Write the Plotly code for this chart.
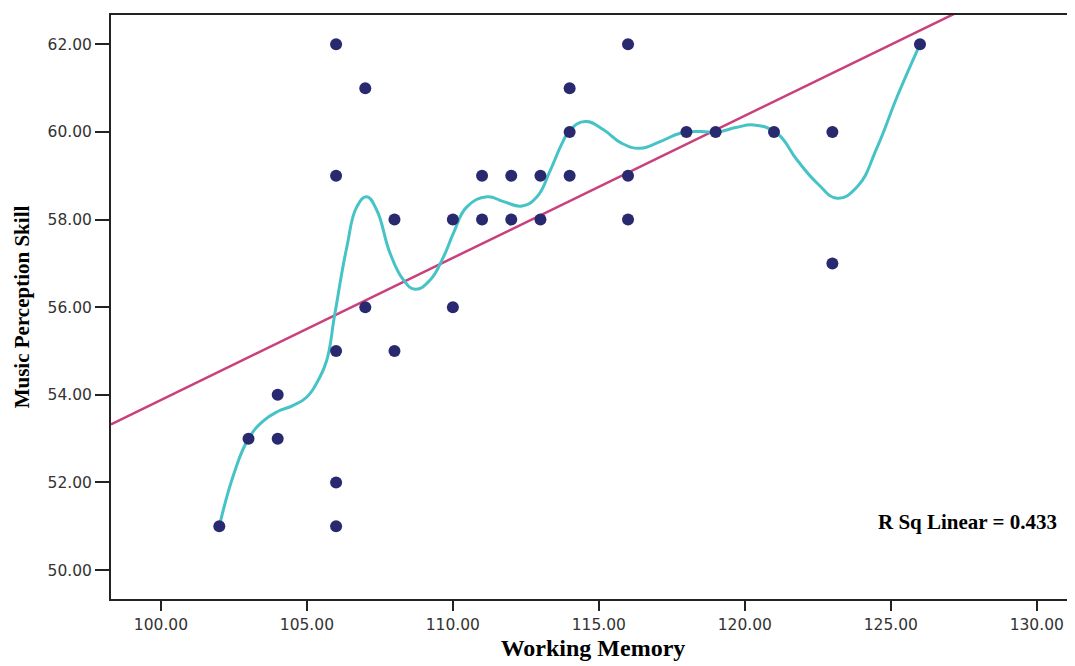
import numpy as np
import plotly.graph_objects as go

# Observed data (Working Memory vs Music Perception Skill)
working_memory = [102, 103, 104, 104, 106, 106, 106, 106, 106, 107, 107, 108, 108,
                  110, 110, 111, 111, 112, 112, 113, 113, 114, 114, 114,
                  116, 116, 116, 118, 119, 121, 123, 123, 126]
music_perception = [51, 53, 54, 53, 62, 59, 55, 52, 51, 61, 56, 58, 55,
                    58, 56, 59, 58, 59, 58, 59, 58, 61, 60, 59,
                    62, 59, 58, 60, 60, 60, 60, 57, 62]

# Loess fit curve
loess_x = [102.0, 102.5, 103.0, 103.5, 104.0, 104.5, 105.0, 105.4, 105.68, 105.96,
           106.37, 106.71, 107.05, 107.39, 107.85, 108.31, 108.71, 109.22, 109.68, 110.02,
           110.48, 111.17, 111.74, 112.37, 112.88, 113.34, 113.74, 114.02, 114.54, 115.16,
           115.79, 116.42, 117.1, 117.79, 118.48, 119.05, 119.7, 120.3, 121.1, 121.79,
           122.48, 123.16, 123.85, 124.54, 125.22, 126.0]
loess_y = [51.0, 52.2, 53.0, 53.4, 53.62, 53.75, 53.95, 54.35, 54.79, 55.86,
           57.38, 58.29, 58.52, 58.22, 57.23, 56.62, 56.41, 56.62, 57.15, 57.69,
           58.29, 58.52, 58.41, 58.31, 58.52, 59.13, 59.74, 60.05, 60.24, 60.05,
           59.74, 59.63, 59.78, 59.97, 60.01, 60.0, 60.1, 60.16, 59.97, 59.36,
           58.83, 58.49, 58.75, 59.66, 60.81, 62.0]

x_ticks = [100, 105, 110, 115, 120, 125, 130]
y_ticks = [50, 52, 54, 56, 58, 60, 62]
X_RANGE = [98.29, 131.31]
Y_RANGE = [49.34, 62.67]
r2_label = "R Sq Linear = 0.433"

slope, intercept = np.polyfit(working_memory, music_perception, 1)
fit_x = np.array(X_RANGE)
fit_y = slope * fit_x + intercept

fig = go.Figure()
fig.add_trace(go.Scatter(x=fit_x, y=fit_y, mode="lines",
                         line=dict(color="#C9407C", width=2.5), showlegend=False))
fig.add_trace(go.Scatter(x=loess_x, y=loess_y, mode="lines",
                         line=dict(color="#45C3C6", width=3, shape="spline", smoothing=1.3),
                         showlegend=False))
fig.add_trace(go.Scatter(x=working_memory, y=music_perception, mode="markers",
                         marker=dict(color="#28296F", size=12), showlegend=False))

tick_font = dict(family="DejaVu Sans", size=15.5, color="#333333")
title_font = dict(family="Liberation Serif", size=24, color="#000000")

# page body has an 8px margin; size the figure so it fills the 1075x666 window
fig.update_layout(
    width=1067, height=658,
    margin=dict(l=103, r=0, t=7, b=67),
    paper_bgcolor="white", plot_bgcolor="white",
    xaxis=dict(range=X_RANGE, tickvals=x_ticks, tickformat=".2f",
               showgrid=False, zeroline=False,
               showline=True, linecolor="#222222", linewidth=2, mirror=True,
               ticks="outside", ticklen=10, tickwidth=2, tickcolor="#222222",
               tickfont=tick_font,
               title=dict(text="<b>Working Memory</b>", font=title_font, standoff=7)),
    yaxis=dict(range=Y_RANGE, tickvals=y_ticks, tickformat=".2f",
               showgrid=False, zeroline=False,
               showline=True, linecolor="#222222", linewidth=2,
               ticks="outside", ticklen=14, tickwidth=2, tickcolor="#222222",
               tickfont=tick_font,
               title=dict(text="<b>Music Perception Skill</b>",
                          font=dict(family="Liberation Serif", size=21, color="#000000"),
                          standoff=12)),
    annotations=[dict(x=130.75, y=51.1, xref="x", yref="y", text="<b>" + r2_label + "</b>",
                      showarrow=False, xanchor="right", yanchor="middle",
                      font=dict(family="Liberation Serif", size=21, color="#000000"))],
)

fig.write_html("out.html")
